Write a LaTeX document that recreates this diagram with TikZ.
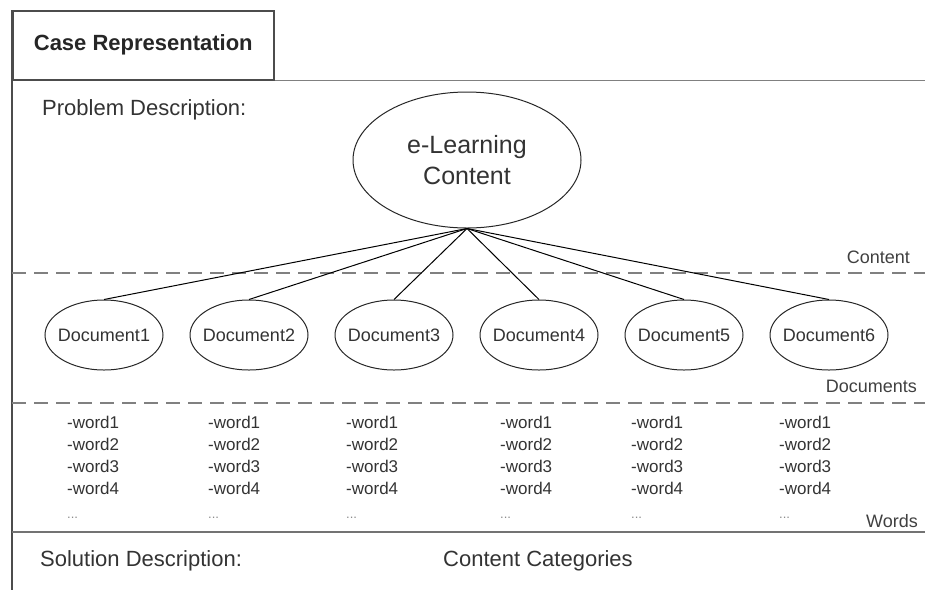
\documentclass[tikz,border=0pt]{standalone}
\usepackage{fontspec}
\setmainfont{Liberation Sans}
\usetikzlibrary{shapes.geometric}

\begin{document}
\begin{tikzpicture}[x=1pt,y=-1pt,
  frame/.style={draw=black!70,line width=1.6pt},
  layer/.style={draw=black!50,line width=2pt,dash pattern=on 14pt off 8pt},
  link/.style={draw=black,line width=1pt},
  doc/.style={ellipse,draw=black!85,line width=1pt,minimum width=118pt,minimum height=70pt,
    inner xsep=-4.5pt,inner ysep=0pt,text=black!80,font=\fontsize{18}{21}\selectfont},
  wordtxt/.style={anchor=base west,inner sep=0pt,text=black!80,font=\fontsize{17}{20}\selectfont},
  tag/.style={anchor=base east,inner sep=0pt,text=black!75,font=\fontsize{18}{21}\selectfont},
  label/.style={anchor=base west,inner sep=0pt,text=black!80,font=\fontsize{22}{26}\selectfont}]
  \useasboundingbox (0,0) rectangle (925,590);
  \coordinate (edge) at (925,0);
  \coordinate (floor) at (0,590);

  % case frame
  \node[frame,anchor=north west,minimum width=261pt,minimum height=69pt,inner sep=0pt,
    font=\bfseries\fontsize{22}{26}\selectfont,text=black!85] (title) at (12,10) {Case Representation};
  \draw[frame] (title.north west) -- (title.north west |- floor);
  \draw[frame,draw=black!50] (title.south east) -- (title.south east -| edge);

  \node[label] (prob) at (42,115) {Problem Description:};

  % content layer
  \node[ellipse,draw=black!85,line width=1pt,minimum width=228pt,minimum height=136pt,inner sep=0pt,
    align=center,text=black!80,font=\fontsize{25}{31}\selectfont] (elc) at (467,160) {e-Learning\\Content};
  \node[tag] (tcont) at (910,263) {Content};
  \coordinate (s1) at (12,273);
  \draw[layer] (s1) -- (s1 -| edge);

  % documents layer
  \foreach \i [evaluate=\i as \x using 104+145*(\i-1)] in {1,...,6}
    \node[doc] (d\i) at (\x,335) {Document\i};
  \foreach \i in {1,...,6}
    \draw[link] (elc.south) -- (d\i.north);
  \node[tag] (tdocs) at (917,392) {Documents};
  \coordinate (s2) at (12,403);
  \draw[layer] (s2) -- (s2 -| edge);

  % words layer
  \foreach \x [count=\i] in {67,208,346,500,631,779} {
    \foreach \r in {1,...,4}
      \node[wordtxt] (w\i-\r) at (\x,{428+22*(\r-1)}) {-word\r};
    \node[wordtxt,text=black!45,font=\fontsize{13}{15}\selectfont] (w\i-5) at (\x,518) {...};
  }
  \node[tag] (twords) at (918,527) {Words};

  % solution
  \coordinate (s3) at (12,532);
  \draw[frame,draw=black!55] (s3) -- (s3 -| edge);
  \node[label] (sol) at (40,566) {Solution Description:};
  \node[label] (cats) at (443,566) {Content Categories};
\end{tikzpicture}
\end{document}
